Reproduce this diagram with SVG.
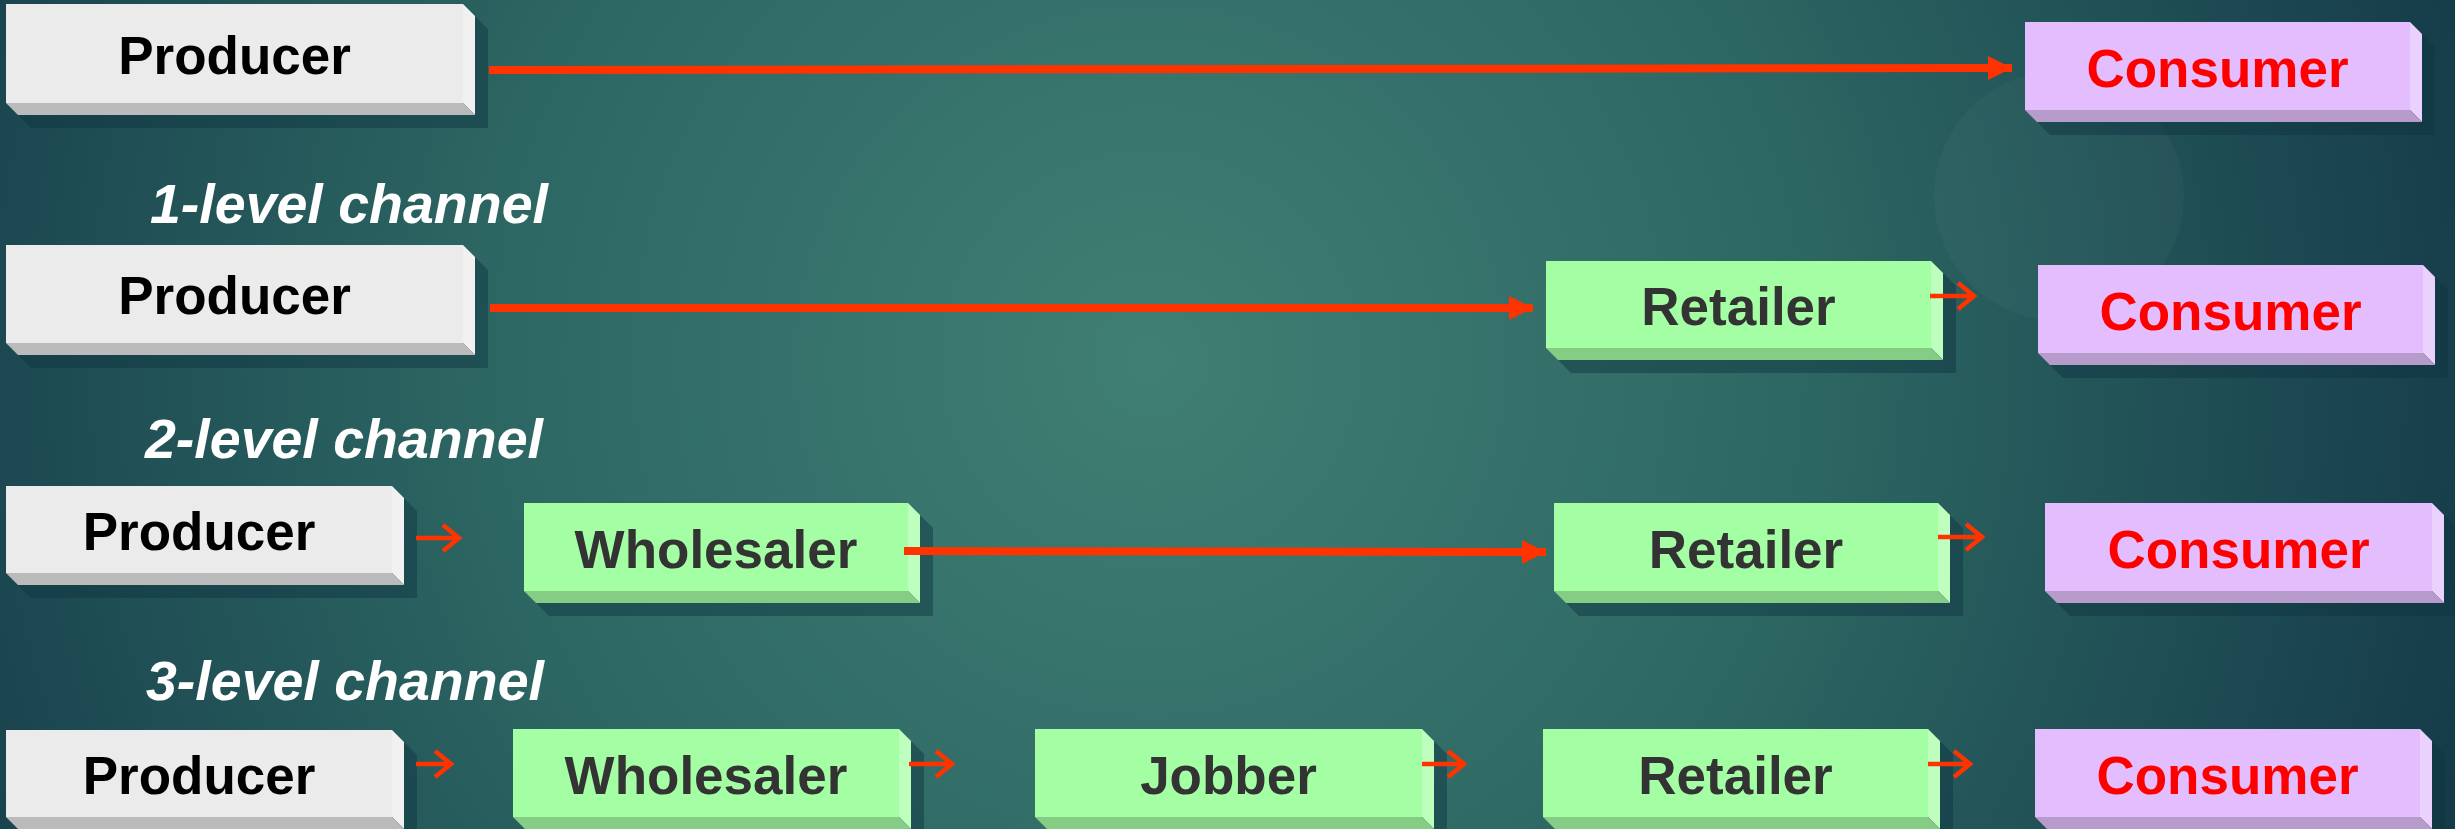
<svg xmlns="http://www.w3.org/2000/svg" width="2455" height="829" viewBox="0 0 2455 829">
<defs>
<radialGradient id="bg" cx="1150" cy="360" r="1450" gradientUnits="userSpaceOnUse">
<stop offset="0" stop-color="#407F74"/>
<stop offset="0.45" stop-color="#2D6763"/>
<stop offset="1" stop-color="#123646"/>
</radialGradient>
<marker id="head" markerUnits="userSpaceOnUse" markerWidth="24" markerHeight="24" refX="24" refY="12" orient="auto">
<path d="M0,0 L24,12 L0,24 Z" fill="#FF3300"/>
</marker>
<style>
.sh{fill:#0E3440;fill-opacity:0.45}
.pf{fill:#EBEBEB}.pr{fill:#F1F1F1}.pb{fill:#BBBBBB}
.gf{fill:#A4FFA4}.gr{fill:#BEFFBE}.gb{fill:#85CC85}
.cf{fill:#E3BDFD}.cr{fill:#EBD1FE}.cb{fill:#B79CCB}
.t{font-family:"Liberation Sans",Arial,sans-serif;font-weight:bold;font-size:53px;text-anchor:middle}
.tp{fill:#000000}.tg{fill:#333333}.tc{fill:#FF0000}
.lbl{font-family:"Liberation Sans",Arial,sans-serif;font-weight:bold;font-style:italic;font-size:55.5px;fill:#FFFFFF}
.big{stroke:#FF3300;stroke-width:8;fill:none;marker-end:url(#head)}
.sm{stroke:#FF3300;stroke-width:4.5;fill:none;stroke-linejoin:miter}
</style>
</defs>
<rect x="0" y="0" width="2455" height="829" fill="url(#bg)"/>
<circle cx="2059" cy="196" r="125" fill="#FFFFFF" fill-opacity="0.03"/>

<g id="labels">
<text class="lbl" x="150" y="223">1-level channel</text>
<text class="lbl" x="145" y="458">2-level channel</text>
<text class="lbl" x="146" y="700">3-level channel</text>
</g>

<g id="producer-0">
<polygon class="sh" points="19,17 476,17 488,29 488,128 31,128 19,116"/>
<rect class="pf" x="6" y="4" width="457" height="99"/>
<polygon class="pr" points="463,4 475,16 475,115 463,103"/>
<polygon class="pb" points="6,103 463,103 475,115 18,115"/>
<text class="t tp" x="234.5" y="74">Producer</text>
</g>
<g id="consumer-0">
<polygon class="sh" points="2038,35 2423,35 2435,47 2435,135 2050,135 2038,123"/>
<rect class="cf" x="2025" y="22" width="385" height="88"/>
<polygon class="cr" points="2410,22 2422,34 2422,122 2410,110"/>
<polygon class="cb" points="2025,110 2410,110 2422,122 2037,122"/>
<text class="t tc" x="2217.5" y="87">Consumer</text>
</g>

<g id="producer-1">
<polygon class="sh" points="19,258 476,258 488,270 488,368 31,368 19,356"/>
<rect class="pf" x="6" y="245" width="457" height="98"/>
<polygon class="pr" points="463,245 475,257 475,355 463,343"/>
<polygon class="pb" points="6,343 463,343 475,355 18,355"/>
<text class="t tp" x="234.5" y="314">Producer</text>
</g>
<g id="retailer-1">
<polygon class="sh" points="1559,274 1944,274 1956,286 1956,373 1571,373 1559,361"/>
<rect class="gf" x="1546" y="261" width="385" height="87"/>
<polygon class="gr" points="1931,261 1943,273 1943,360 1931,348"/>
<polygon class="gb" points="1546,348 1931,348 1943,360 1558,360"/>
<text class="t tg" x="1738.5" y="325">Retailer</text>
</g>
<g id="consumer-1">
<polygon class="sh" points="2051,278 2436,278 2448,290 2448,378 2063,378 2051,366"/>
<rect class="cf" x="2038" y="265" width="385" height="88"/>
<polygon class="cr" points="2423,265 2435,277 2435,365 2423,353"/>
<polygon class="cb" points="2038,353 2423,353 2435,365 2050,365"/>
<text class="t tc" x="2230.5" y="330">Consumer</text>
</g>

<g id="producer-2">
<polygon class="sh" points="19,499 405,499 417,511 417,598 31,598 19,586"/>
<rect class="pf" x="6" y="486" width="386" height="87"/>
<polygon class="pr" points="392,486 404,498 404,585 392,573"/>
<polygon class="pb" points="6,573 392,573 404,585 18,585"/>
<text class="t tp" x="199" y="550">Producer</text>
</g>
<g id="wholesaler-2">
<polygon class="sh" points="537,516 921,516 933,528 933,616 549,616 537,604"/>
<rect class="gf" x="524" y="503" width="384" height="88"/>
<polygon class="gr" points="908,503 920,515 920,603 908,591"/>
<polygon class="gb" points="524,591 908,591 920,603 536,603"/>
<text class="t tg" x="716" y="568">Wholesaler</text>
</g>
<g id="retailer-2">
<polygon class="sh" points="1567,516 1951,516 1963,528 1963,616 1579,616 1567,604"/>
<rect class="gf" x="1554" y="503" width="384" height="88"/>
<polygon class="gr" points="1938,503 1950,515 1950,603 1938,591"/>
<polygon class="gb" points="1554,591 1938,591 1950,603 1566,603"/>
<text class="t tg" x="1746" y="568">Retailer</text>
</g>
<g id="consumer-2">
<polygon class="sh" points="2058,516 2445,516 2457,528 2457,616 2070,616 2058,604"/>
<rect class="cf" x="2045" y="503" width="387" height="88"/>
<polygon class="cr" points="2432,503 2444,515 2444,603 2432,591"/>
<polygon class="cb" points="2045,591 2432,591 2444,603 2057,603"/>
<text class="t tc" x="2238.5" y="568">Consumer</text>
</g>

<g id="producer-3">
<polygon class="sh" points="19,743 405,743 417,755 417,842 31,842 19,830"/>
<rect class="pf" x="6" y="730" width="386" height="87"/>
<polygon class="pr" points="392,730 404,742 404,829 392,817"/>
<polygon class="pb" points="6,817 392,817 404,829 18,829"/>
<text class="t tp" x="199" y="794">Producer</text>
</g>
<g id="wholesaler-3">
<polygon class="sh" points="526,742 912,742 924,754 924,842 538,842 526,830"/>
<rect class="gf" x="513" y="729" width="386" height="88"/>
<polygon class="gr" points="899,729 911,741 911,829 899,817"/>
<polygon class="gb" points="513,817 899,817 911,829 525,829"/>
<text class="t tg" x="706" y="794">Wholesaler</text>
</g>
<g id="jobber-3">
<polygon class="sh" points="1048,742 1435,742 1447,754 1447,842 1060,842 1048,830"/>
<rect class="gf" x="1035" y="729" width="387" height="88"/>
<polygon class="gr" points="1422,729 1434,741 1434,829 1422,817"/>
<polygon class="gb" points="1035,817 1422,817 1434,829 1047,829"/>
<text class="t tg" x="1228.5" y="794">Jobber</text>
</g>
<g id="retailer-3">
<polygon class="sh" points="1556,742 1941,742 1953,754 1953,842 1568,842 1556,830"/>
<rect class="gf" x="1543" y="729" width="385" height="88"/>
<polygon class="gr" points="1928,729 1940,741 1940,829 1928,817"/>
<polygon class="gb" points="1543,817 1928,817 1940,829 1555,829"/>
<text class="t tg" x="1735.5" y="794">Retailer</text>
</g>
<g id="consumer-3">
<polygon class="sh" points="2048,742 2433,742 2445,754 2445,842 2060,842 2048,830"/>
<rect class="cf" x="2035" y="729" width="385" height="88"/>
<polygon class="cr" points="2420,729 2432,741 2432,829 2420,817"/>
<polygon class="cb" points="2035,817 2420,817 2432,829 2047,829"/>
<text class="t tc" x="2227.5" y="794">Consumer</text>
</g>

<g id="connectors">
<line class="big" x1="489" y1="70" x2="2012" y2="68"/>
<line class="big" x1="490" y1="308" x2="1533" y2="308"/>
<line class="big" x1="904" y1="551" x2="1546" y2="552"/>
<path class="sm" d="M1930,296 H1972 M1958,283 L1974,296 L1958,309"/>
<path class="sm" d="M416,538 H457 M443,525 L459,538 L443,551"/>
<path class="sm" d="M1938,537 H1980 M1966,524 L1982,537 L1966,550"/>
<path class="sm" d="M416,764 H449 M435,751 L451,764 L435,777"/>
<path class="sm" d="M909,764 H950 M936,751 L952,764 L936,777"/>
<path class="sm" d="M1422,764 H1462 M1448,751 L1464,764 L1448,777"/>
<path class="sm" d="M1928,764 H1968 M1954,751 L1970,764 L1954,777"/>
</g>
</svg>
